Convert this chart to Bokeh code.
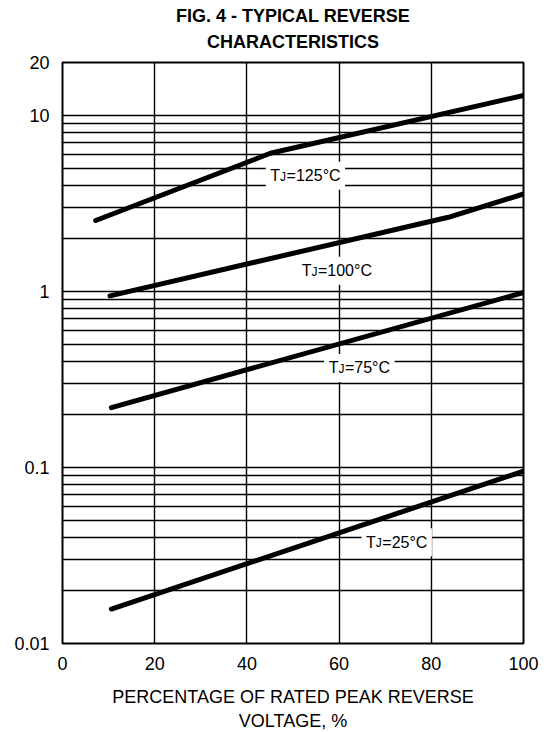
from bokeh.plotting import figure
from bokeh.models import FixedTicker, CustomJSTickFormatter, ColumnDataSource, Title
from bokeh.core.properties import value
from bokeh.embed import file_html
from bokeh.resources import INLINE

# ---------------- data ----------------
pct_125 = [7.2, 45.1, 100.0]
ir_125 = [2.53, 6.1, 13.0]
pct_100 = [10.3, 83.7, 100.0]
ir_100 = [0.945, 2.64, 3.58]
pct_75 = [10.6, 100.0]
ir_75 = [0.219, 0.987]
pct_25 = [10.6, 100.0]
ir_25 = [0.0157, 0.0953]

temps = ["125", "100", "75", "25"]
label_pct = [52.7, 59.5, 64.4, 72.5]
label_ir = [4.55, 1.31, 0.368, 0.0376]

x_ticks = [0, 20, 40, 60, 80, 100]
x_grid = [20, 40, 60, 80]
y_ticks = [0.01, 0.1, 1, 10, 20]
y_grid = [k * 10.0 ** e for e in (-2, -1, 0) for k in range(1, 10)][1:] + [10.0]

title_line1 = "FIG. 4 - TYPICAL REVERSE"
title_line2 = "CHARACTERISTICS"
x_label = "PERCENTAGE OF RATED PEAK REVERSE\nVOLTAGE, %"

FONT = "Liberation Sans"

p = figure(
    output_backend="svg", toolbar_location=None,
    frame_width=461, frame_height=581,
    min_border_left=62, min_border_right=30, min_border_top=62, min_border_bottom=86,
    x_range=(0, 100), y_range=(0.01, 20), y_axis_type="log",
    title=title_line1,
)
p.background_fill_color = "white"
p.border_fill_color = "white"
p.outline_line_color = "black"
p.outline_line_width = 2

def style_title(t, standoff, valign, lh):
    t.align = "center"
    t.vertical_align = valign
    t.text_font = FONT
    t.text_font_size = "18px"
    t.text_font_style = "bold"
    t.text_color = "black"
    t.text_line_height = lh
    t.standoff = standoff

style_title(p.title, -5, "bottom", 1.05)
t2 = Title(text=title_line2)
style_title(t2, 17, "top", 0.9)
p.add_layout(t2, "above")

for ax in (p.xaxis[0], p.yaxis[0]):
    ax.axis_line_color = None
    ax.major_tick_line_color = None
    ax.minor_tick_line_color = None
    ax.major_label_text_font = FONT
    ax.major_label_text_font_size = "18px"
    ax.major_label_text_color = "black"
p.xaxis.major_label_standoff = 7
p.yaxis.major_label_standoff = 7

p.xaxis.ticker = FixedTicker(ticks=x_ticks)
p.yaxis.ticker = FixedTicker(ticks=y_ticks)
p.yaxis.formatter = CustomJSTickFormatter(code="return tick.toString();")
p.xaxis.axis_label = x_label
p.xaxis.axis_label_text_font = FONT
p.xaxis.axis_label_text_font_size = "18px"
p.xaxis.axis_label_text_font_style = "normal"
p.xaxis.axis_label_text_color = "black"
p.xaxis.axis_label_text_line_height = 1.2
p.xaxis.axis_label_standoff = 14

p.xgrid.ticker = FixedTicker(ticks=x_grid)
p.ygrid.ticker = FixedTicker(ticks=y_grid)
for g in (p.xgrid[0], p.ygrid[0]):
    g.grid_line_color = "black"
    g.grid_line_width = 1.4
    g.grid_line_alpha = 1.0

# curves
for xs, ys in ((pct_125, ir_125), (pct_100, ir_100), (pct_75, ir_75), (pct_25, ir_25)):
    p.line(xs, ys, line_color="black", line_width=5, line_cap="round", line_join="round")

# labels with white background
MAIN = 16
SUB = 12
def w_main(s):
    widths = {"=": 0.584, "°": 0.4, "C": 0.722}
    return sum(widths.get(c, 0.556) for c in s) * MAIN

t_w = 0.611 * MAIN
j_w = 0.5 * SUB + 0.5
box_w, starts = [], []
for t in temps:
    total = t_w + j_w + w_main("=" + t + "°C")
    box_w.append(total + 9)
    starts.append(-total / 2)

p.rect(x=label_pct, y=label_ir, width=box_w, height=[28] * 4,
       width_units="screen", height_units="screen",
       fill_color="white", line_color=None)

MAIN_DY = 0
SUB_DY = 1
src_t = ColumnDataSource(dict(x=label_pct, y=label_ir, txt=["T"] * 4, xo=starts))
p.text(x="x", y="y", text="txt", source=src_t, x_offset="xo", y_offset=MAIN_DY,
       text_font=value(FONT), text_font_size=f"{MAIN}px", text_color="black",
       text_align="left", text_baseline="alphabetic")
src_j = ColumnDataSource(dict(x=label_pct, y=label_ir, txt=["J"] * 4,
                              xo=[s + t_w for s in starts]))
p.text(x="x", y="y", text="txt", source=src_j, x_offset="xo", y_offset=SUB_DY,
       text_font=value(FONT), text_font_size=f"{SUB}px", text_color="black",
       text_align="left", text_baseline="alphabetic")
src_r = ColumnDataSource(dict(x=label_pct, y=label_ir, txt=["=" + t + "°C" for t in temps],
                              xo=[s + t_w + j_w for s in starts]))
p.text(x="x", y="y", text="txt", source=src_r, x_offset="xo", y_offset=MAIN_DY,
       text_font=value(FONT), text_font_size=f"{MAIN}px", text_color="black",
       text_align="left", text_baseline="alphabetic")

open("out.html", "w").write(file_html(p, INLINE))
